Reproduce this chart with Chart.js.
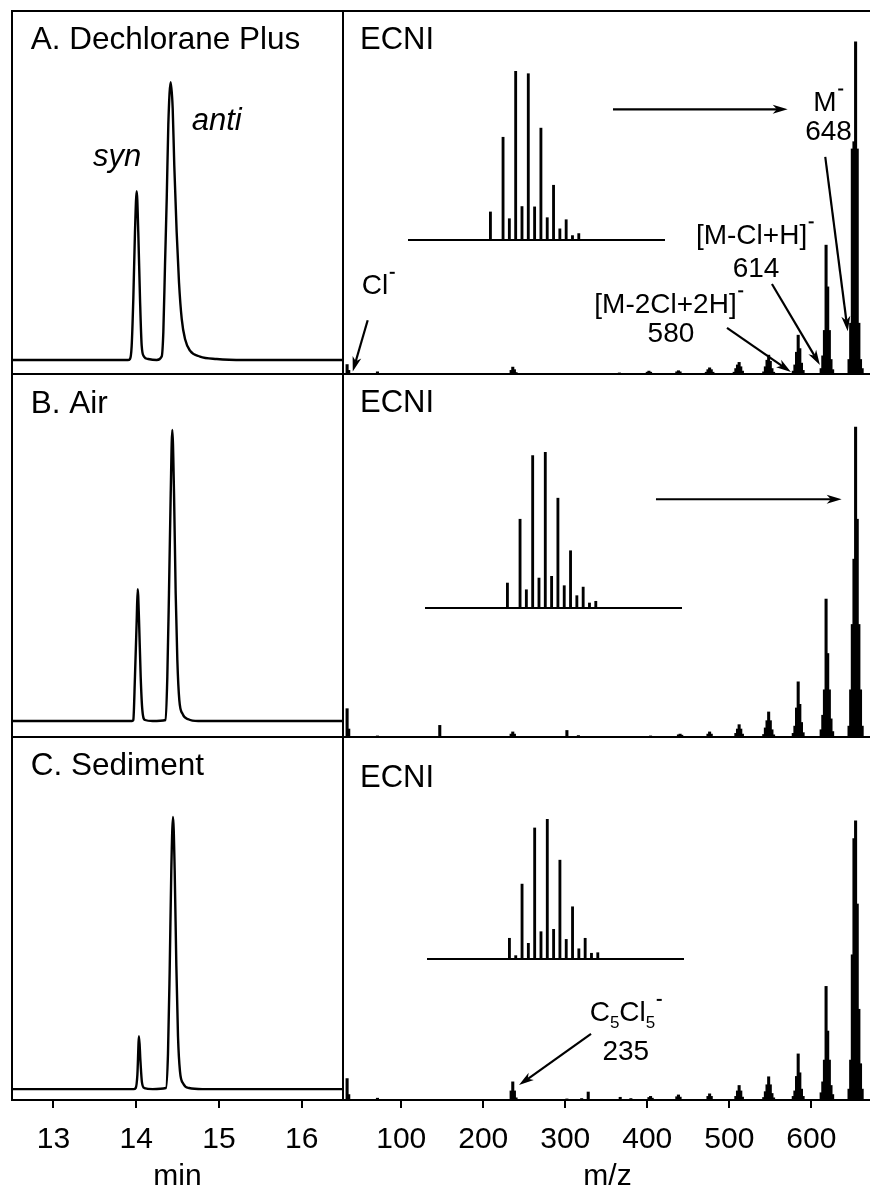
<!DOCTYPE html>
<html>
<head>
<meta charset="utf-8">
<script src="https://cdn.jsdelivr.net/npm/chart.js@4.4.1/dist/chart.umd.min.js"></script>
<style>
  html, body { margin: 0; padding: 0; width: 870px; height: 1188px; overflow: hidden; background: #fff; }
  canvas { position: absolute; }
</style>
</head>
<body>
<script>
'use strict';

const FONT = '"Liberation Sans", Arimo, Arial, sans-serif';

// axes
const timeRange = [12.5, 16.5];
const timeTicks = [13, 14, 15, 16];
const mzRange = [29, 674];
const mzTicks = [100, 200, 300, 400, 500, 600];

// chromatograms: [min, response]
const chromA = [
    [12.5, 0], [13.9, 0], [13.926, 0.3], [13.946, 4], [13.966, 17.5], [13.986, 36.6], [14.007, 48.4],
    [14.026, 36.6], [14.047, 17.5], [14.067, 4.2], [14.095, 1.0], [14.147, 0.3], [14.249, 0],
    [14.309, 1.0], [14.329, 8.1], [14.349, 27.2], [14.37, 46.4], [14.389, 67.4], [14.418, 79.6],
    [14.442, 72], [14.461, 55.8], [14.49, 36.6], [14.518, 22.3], [14.551, 11.8], [14.591, 6.0],
    [14.651, 2.7], [14.772, 1.0], [14.974, 0.3], [15.3, 0], [16.5, 0]
];
const chromB = [
    [12.5, 0], [13.95, 0], [13.966, 0.3], [13.986, 12.8], [14.007, 29.1], [14.019, 38], [14.035, 29.1],
    [14.055, 12.8], [14.075, 3.2], [14.107, 0.3], [14.2, 0], [14.357, 0.3], [14.377, 12.8],
    [14.397, 36.8], [14.418, 65.6], [14.437, 83.9], [14.458, 65.6], [14.478, 36.8], [14.498, 17.6],
    [14.522, 6], [14.563, 2], [14.631, 0.5], [14.75, 0], [16.5, 0]
];
const chromC = [
    [12.5, 0], [13.97, 0], [13.995, 0.3], [14.015, 4], [14.035, 15], [14.052, 8], [14.07, 2],
    [14.1, 0.3], [14.2, 0], [14.36, 0.3], [14.385, 10], [14.405, 33], [14.425, 62], [14.446, 77.3],
    [14.466, 62], [14.486, 35], [14.506, 15], [14.53, 5], [14.57, 1.5], [14.64, 0.3], [14.8, 0], [16.5, 0]
];

// ECNI spectra: [m/z, intensity]
const specA = [
    [34, 2.6], [36, 1.0], [71, 0.6],
    [234, 1.0], [236, 1.9], [238, 1.2], [240, 0.4], [366, 0.3],
    [400, 0.5], [402, 0.8], [404, 0.5], [436, 0.6], [438, 0.9], [440, 0.6],
    [472, 0.5], [474, 1.2], [476, 1.7], [478, 1.2], [480, 0.5],
    [506, 0.5], [508, 1.5], [510, 2.5], [512, 3.2], [514, 2.0], [516, 0.8],
    [542, 0.6], [544, 2.0], [546, 3.8], [548, 5.2], [550, 3.5], [552, 1.5], [554, 0.5],
    [578, 0.8], [580, 2.5], [582, 6.0], [584, 10.7], [586, 7.0], [588, 3.0], [590, 1.0],
    [612, 1.5], [614, 5.0], [616, 12], [618, 35.5], [620, 24], [622, 12], [624, 4], [626, 1.2],
    [646, 4], [648, 14], [650, 62], [652, 64], [654, 91.5], [656, 62], [658, 14], [660, 4], [662, 1.5]
];
const specB = [
    [34, 7.8], [36, 2.2], [71, 0.3], [147, 3.2],
    [234, 0.8], [236, 1.4], [238, 0.8], [302, 1.8], [316, 0.4], [404, 0.3],
    [438, 0.6], [440, 0.8], [442, 0.5], [474, 0.8], [476, 1.4], [478, 0.8],
    [508, 1.0], [510, 2.2], [512, 3.4], [514, 2.2], [516, 0.8],
    [542, 0.7], [544, 2.5], [546, 4.5], [548, 6.9], [550, 4.5], [552, 2.0], [554, 0.6],
    [578, 1.0], [580, 3.0], [582, 8.0], [584, 15.2], [586, 9.0], [588, 4.0], [590, 1.2],
    [612, 2], [614, 6], [616, 13], [618, 38], [620, 23], [622, 13], [624, 5], [626, 1.5],
    [646, 3], [648, 13], [650, 31], [652, 49], [654, 85.4], [656, 60], [658, 31], [660, 13], [662, 3]
];
const specC = [
    [34, 5.9], [36, 1.5], [71, 0.5],
    [234, 2.5], [236, 5.0], [238, 2.5], [240, 0.6],
    [302, 0.3], [320, 0.4], [328, 2.2], [367, 0.75], [380, 0.4],
    [402, 0.7], [404, 1.0], [406, 0.5], [436, 0.9], [438, 1.4], [440, 0.8],
    [474, 1.0], [476, 1.7], [478, 1.0],
    [508, 1.0], [510, 2.5], [512, 4.0], [514, 2.5], [516, 0.8],
    [542, 0.7], [544, 2.3], [546, 4.2], [548, 6.4], [550, 4.2], [552, 1.8], [554, 0.6],
    [578, 1.0], [580, 2.5], [582, 6.5], [584, 12.7], [586, 7.5], [588, 3.0], [590, 1.0],
    [612, 2], [614, 5], [616, 11], [618, 31.3], [620, 19], [622, 11], [624, 4], [626, 1.5],
    [646, 3], [648, 11], [650, 40], [652, 72], [654, 76.9], [656, 54], [658, 25], [660, 10], [662, 3]
];

// isotope cluster of M- (insets), relative to base peak
const isoRange = [635.1, 675.5];
const isoMz = [648, 649, 650, 651, 652, 653, 654, 655, 656, 657, 658, 659, 660, 661, 662];
const isoA = [16.6, 0, 60.8, 12.6, 100, 19.8, 98.4, 19.6, 66.2, 13.2, 32.4, 6.6, 12.0, 2.6, 3.8];
const isoB = [16.0, 0, 56.9, 11.7, 97.7, 19.2, 100, 20.3, 70.4, 14.3, 36.7, 7.9, 13.4, 3.2, 4.3];
const isoC = [14.8, 2.4, 53.5, 11.2, 93.6, 19.5, 100, 21.2, 70.6, 14.0, 37.3, 7.3, 14.8, 4.1, 4.5];

Chart.defaults.font.family = FONT;
Chart.defaults.color = '#000';
Chart.defaults.animation = false;

// ---- drawing helpers -------------------------------------------------

function drawRich(ctx, t, px, py) {
    const size = t.size || 31;
    const small = Math.round(size * 0.62);
    const cap = size * 0.716;
    const base = py + cap / 2;
    const style = t.italic ? 'italic ' : '';
    const widths = t.segs.map(([s, k]) => {
        if (k === 'sup') return 7;
        ctx.font = style + (k ? small : size) + 'px ' + FONT;
        return ctx.measureText(s).width;
    });
    const total = widths.reduce((a, b) => a + b, 0);
    let cx = t.align === 'left' ? px : px - total / 2;
    ctx.textAlign = 'left';
    ctx.textBaseline = 'alphabetic';
    t.segs.forEach(([s, k], i) => {
        if (k === 'sup') {
            ctx.fillRect(cx + 1.5, base - cap - 2.5, 5, 2);
        } else {
            ctx.font = style + (k ? small : size) + 'px ' + FONT;
            ctx.fillText(s, cx, k === 'sub' ? base + size * 0.22 : base);
        }
        cx += widths[i];
    });
}

function drawArrow(ctx, x1, y1, x2, y2) {
    const ang = Math.atan2(y2 - y1, x2 - x1);
    const len = 15, half = 4.5;
    ctx.lineWidth = 2.2;
    ctx.beginPath();
    ctx.moveTo(x1, y1);
    ctx.lineTo(x2 - Math.cos(ang) * len * 0.7, y2 - Math.sin(ang) * len * 0.7);
    ctx.stroke();
    ctx.save();
    ctx.translate(x2, y2);
    ctx.rotate(ang);
    ctx.beginPath();
    ctx.moveTo(0, 0);
    ctx.lineTo(-len, -half);
    ctx.lineTo(-len * 0.72, 0);
    ctx.lineTo(-len, half);
    ctx.closePath();
    ctx.fill();
    ctx.restore();
}

const frame = {
    id: 'frame',
    afterDatasetsDraw(chart) {
        const {ctx, chartArea: a} = chart;
        ctx.save();
        ctx.strokeStyle = '#000';
        ctx.lineWidth = 2;
        ctx.strokeRect(a.left, a.top, a.right - a.left, a.bottom - a.top);
        ctx.restore();
    }
};

// labels and arrows, placed in data coordinates
function notes(texts, arrows) {
    return {
        id: 'notes',
        afterDraw(chart) {
            const {ctx, scales: {x, y}} = chart;
            ctx.save();
            ctx.fillStyle = '#000';
            ctx.strokeStyle = '#000';
            arrows.forEach(a => drawArrow(ctx,
                x.getPixelForValue(a[0]), y.getPixelForValue(a[1]),
                x.getPixelForValue(a[2]), y.getPixelForValue(a[3])));
            texts.forEach(t => drawRich(ctx, t, x.getPixelForValue(t.x), y.getPixelForValue(t.y)));
            ctx.restore();
        }
    };
}

function place(left, top, width, height) {
    const c = document.createElement('canvas');
    c.width = width;
    c.height = height;
    c.style.left = left + 'px';
    c.style.top = top + 'px';
    document.body.appendChild(c);
    return c;
}

function xAxis(range, ticks, title, bottom) {
    const axis = {
        type: 'linear',
        min: range[0],
        max: range[1],
        offset: false,
        display: bottom,
        afterBuildTicks: s => { s.ticks = ticks.map(v => ({value: v})); }
    };
    if (bottom) {
        Object.assign(axis, {
            afterFit: s => { s.height = 95; },
            grid: {display: true, drawOnChartArea: false, drawTicks: true, tickLength: 8,
                   color: '#000', lineWidth: 2, offset: false},
            border: {display: true, color: '#000', width: 2},
            ticks: {font: {size: 30}, color: '#000', padding: 14, maxRotation: 0, autoSkip: false},
            title: {display: true, text: title, font: {size: 30}, color: '#000', padding: {top: 0, bottom: 0}}
        });
    }
    return axis;
}

// ---- panels ----------------------------------------------------------

const rows = [
    {top: 11, bottom: 374, chrom: chromA, yMinC: -4, spec: specA, iso: isoA},
    {top: 374, bottom: 737, chrom: chromB, yMinC: -4.6, spec: specB, iso: isoB},
    {top: 737, bottom: 1100, chrom: chromC, yMinC: -3.1, spec: specC, iso: isoC}
];

const leftNotes = [
    [{segs: [['A. Dechlorane Plus']], x: 12.726, y: 92.3, align: 'left', size: 31.5},
     {segs: [['syn']], x: 13.479, y: 58.7, align: 'left', italic: true},
     {segs: [['anti']], x: 14.672, y: 69.2, align: 'left', italic: true}],
    [{segs: [['B. Air']], x: 12.726, y: 92.0, align: 'left', size: 31.5}],
    [{segs: [['C. Sediment']], x: 12.726, y: 92.3, align: 'left', size: 31.5}]
];

const rightNotes = [
    {
        texts: [
            {segs: [['ECNI']], x: 49.7, y: 92.6, align: 'left'},
            {segs: [['M'], ['-', 'sup']], x: 621, y: 75.2, size: 28},
            {segs: [['648']], x: 621, y: 67.2, size: 28},
            {segs: [['[M-Cl+H]'], ['-', 'sup']], x: 531.4, y: 38.6, size: 28},
            {segs: [['614']], x: 532.6, y: 29.5, size: 28},
            {segs: [['[M-2Cl+2H]'], ['-', 'sup']], x: 426.5, y: 19.6, size: 28},
            {segs: [['580']], x: 428.9, y: 11.6, size: 28},
            {segs: [['Cl'], ['-', 'sup']], x: 72.3, y: 24.7, size: 28}
        ],
        arrows: [
            [358.2, 72.9, 571.2, 72.9],
            [617, 59.8, 644.4, 11.8],
            [552, 24.8, 610.5, 2.5],
            [497.2, 12.7, 575.2, 0.55],
            [59.1, 14.8, 40.9, 0.66]
        ]
    },
    {
        texts: [{segs: [['ECNI']], x: 49.7, y: 92.6, align: 'left'}],
        arrows: [[410.6, 65.5, 637, 65.5]]
    },
    {
        texts: [
            {segs: [['ECNI']], x: 49.7, y: 89.3, align: 'left'},
            {segs: [['C'], ['5', 'sub'], ['Cl'], ['5', 'sub'], ['-', 'sup']], x: 374, y: 24.4, size: 28},
            {segs: [['235']], x: 373.8, y: 13.9, size: 28}
        ],
        arrows: [[331.4, 18.2, 243.6, 4.1]]
    }
];

// inset boxes: left, right, bottom, top of the stick plot
const insetBoxes = [
    [408.6, 664, 240, 71],
    [426, 681.7, 608.3, 452],
    [428.3, 684, 959, 818.7]
];

rows.forEach((row, i) => {
    const last = i === rows.length - 1;
    const h = row.bottom - row.top;
    const canvasH = last ? 4 + h + 95 : h + 8;
    const pad = {top: 4, left: 4, right: 4, bottom: last ? 0 : 4};

    // chromatogram
    new Chart(place(8, row.top - 4, 339, canvasH), {
        type: 'line',
        data: {
            datasets: [{
                data: row.chrom.map(([x, y]) => ({x, y})),
                borderColor: '#000',
                borderWidth: 2.4,
                pointRadius: 0,
                cubicInterpolationMode: 'monotone',
                fill: false
            }]
        },
        options: {
            responsive: false,
            layout: {padding: pad},
            plugins: {legend: {display: false}, tooltip: {enabled: false}},
            scales: {
                x: xAxis(timeRange, timeTicks, 'min', last),
                y: {type: 'linear', min: row.yMinC, max: 100, display: false}
            }
        },
        plugins: [frame, notes(leftNotes[i], [])]
    });

    // mass spectrum
    new Chart(place(339, row.top - 4, 537, canvasH), {
        type: 'bar',
        data: {
            datasets: [{
                data: row.spec.map(([x, y]) => ({x, y})),
                backgroundColor: '#000',
                borderWidth: 0,
                barThickness: 2.4
            }]
        },
        options: {
            responsive: false,
            layout: {padding: pad},
            plugins: {legend: {display: false}, tooltip: {enabled: false}},
            scales: {
                x: xAxis(mzRange, mzTicks, 'm/z', last),
                y: {type: 'linear', min: 0, max: 100, display: false}
            }
        },
        plugins: [frame, notes(rightNotes[i].texts, rightNotes[i].arrows)]
    });

    // isotope inset
    const [l, r, b, t] = insetBoxes[i];
    new Chart(place(l - 4, t - 4, r - l + 8, b - t + 8), {
        type: 'bar',
        data: {
            datasets: [{
                data: isoMz.map((m, k) => ({x: m, y: row.iso[k]})),
                backgroundColor: '#000',
                borderWidth: 0,
                barThickness: 2.2
            }]
        },
        options: {
            responsive: false,
            layout: {padding: 4},
            plugins: {legend: {display: false}, tooltip: {enabled: false}},
            scales: {
                x: {
                    type: 'linear', min: isoRange[0], max: isoRange[1], offset: false,
                    afterFit: s => { s.height = 0; },
                    grid: {display: false},
                    ticks: {display: false},
                    border: {display: true, color: '#000', width: 2}
                },
                y: {type: 'linear', min: 0, max: 100, display: false}
            }
        }
    });
});
</script>
</body>
</html>
